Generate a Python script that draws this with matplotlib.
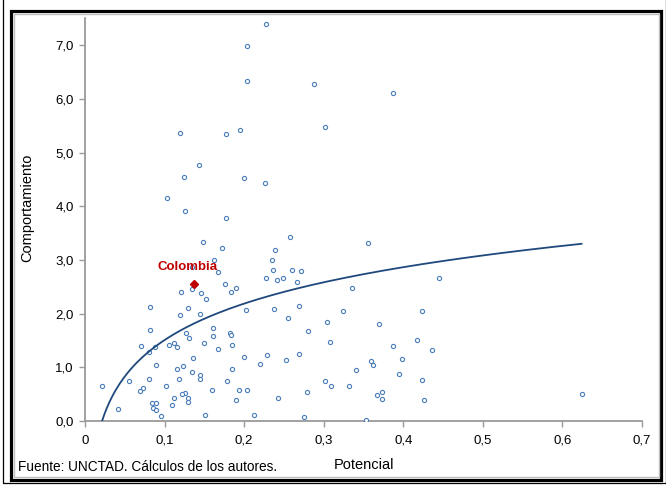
import matplotlib
matplotlib.use("Agg")
import matplotlib.pyplot as plt
import numpy as np
from matplotlib.patches import Rectangle
from matplotlib.ticker import FuncFormatter

plt.rcParams['font.family'] = ['Liberation Sans', 'DejaVu Sans']

# Potencial (x) and Comportamiento (y) for each economy
potencial = [
    0.228, 0.204, 0.204, 0.119, 0.177, 0.195, 0.143, 0.124, 0.200, 0.226, 0.103, 0.126, 0.177,
    0.288, 0.387, 0.302,
    0.148, 0.172, 0.239, 0.162, 0.235, 0.135, 0.167, 0.236, 0.227, 0.241, 0.176, 0.190, 0.134,
    0.121, 0.146, 0.183, 0.152, 0.082, 0.129, 0.202, 0.237, 0.119, 0.144, 0.082, 0.161, 0.127,
    0.161, 0.182, 0.184, 0.131, 0.071, 0.105, 0.112, 0.115, 0.088, 0.150, 0.185, 0.081, 0.167,
    0.136, 0.200, 0.229, 0.089, 0.123, 0.220, 0.115, 0.185, 0.134, 0.144, 0.144, 0.118, 0.080,
    0.178, 0.055, 0.021, 0.073, 0.069, 0.102, 0.160, 0.193, 0.204, 0.126, 0.122, 0.129, 0.112,
    0.130, 0.190, 0.084, 0.089, 0.109, 0.242, 0.041, 0.085, 0.089, 0.095, 0.151, 0.213,
    0.258, 0.260, 0.271, 0.249, 0.266, 0.356, 0.335, 0.445, 0.269, 0.255, 0.324, 0.304, 0.369,
    0.423, 0.280, 0.308, 0.387, 0.417, 0.436, 0.252, 0.269, 0.360, 0.362, 0.399, 0.341, 0.394,
    0.302, 0.309, 0.332, 0.423, 0.279, 0.367, 0.373, 0.373, 0.426, 0.275, 0.353,
    0.624,
]
comportamiento = [
    7.39, 6.99, 6.34, 5.36, 5.35, 5.42, 4.77, 4.54, 4.53, 4.43, 4.16, 3.92, 3.78,
    6.28, 6.11, 5.47,
    3.33, 3.23, 3.18, 2.99, 2.99, 2.86, 2.77, 2.81, 2.67, 2.62, 2.55, 2.48, 2.46,
    2.40, 2.38, 2.40, 2.28, 2.12, 2.10, 2.07, 2.08, 1.97, 2.00, 1.69, 1.74, 1.63,
    1.59, 1.64, 1.60, 1.54, 1.40, 1.42, 1.45, 1.37, 1.37, 1.45, 1.41, 1.28, 1.34,
    1.17, 1.20, 1.23, 1.04, 1.02, 1.06, 0.97, 0.96, 0.91, 0.86, 0.78, 0.79, 0.78,
    0.75, 0.74, 0.65, 0.62, 0.56, 0.65, 0.57, 0.57, 0.57, 0.53, 0.50, 0.43, 0.43,
    0.35, 0.39, 0.34, 0.33, 0.29, 0.42, 0.23, 0.24, 0.21, 0.09, 0.11, 0.12,
    3.43, 2.81, 2.79, 2.66, 2.59, 3.31, 2.48, 2.66, 2.15, 1.92, 2.04, 1.84, 1.81,
    2.05, 1.68, 1.48, 1.40, 1.50, 1.33, 1.14, 1.24, 1.12, 1.04, 1.16, 0.95, 0.87,
    0.75, 0.66, 0.66, 0.76, 0.54, 0.48, 0.54, 0.41, 0.39, 0.08, 0.01,
    0.50,
]

# Highlighted country
colombia_x = [0.137]
colombia_y = [2.55]

# Logarithmic trend line: y = a*ln(x) + b
trend_a = 0.979
trend_b = 3.762

x_ticks = [0, 0.1, 0.2, 0.3, 0.4, 0.5, 0.6, 0.7]
y_ticks = [0, 1, 2, 3, 4, 5, 6, 7]

W, H = 666, 492
fig = plt.figure(figsize=(W / 100, H / 100), dpi=100)


def fx(px):
    return px / W


def fy(py):
    return 1 - py / H


# Frame around the figure
fig.patches.append(Rectangle((fx(2.5), fy(483)), fx(665.5) - fx(2.5), fy(-3) - fy(483),
                             transform=fig.transFigure, fill=False, edgecolor='black', lw=0.9))
fig.patches.append(Rectangle((fx(10.8), fy(480)), fx(661) - fx(10.8), fy(10.8) - fy(480),
                             transform=fig.transFigure, fill=False, edgecolor='black', lw=2.3))
fig.patches.append(Rectangle((fx(13.5), fy(477)), fx(658.5) - fx(13.5), fy(13.5) - fy(477),
                             transform=fig.transFigure, fill=False, edgecolor='#bfbfbf', lw=1.0))

ax = fig.add_axes([fx(85), fy(421), fx(642) - fx(85), fy(18.3) - fy(421)])

ax.scatter(potencial, comportamiento, s=9, facecolors='white', edgecolors='#4a7ebb',
           linewidths=0.8, zorder=3)

xs = np.linspace(min(potencial), max(potencial), 400)
ax.plot(xs, trend_a * np.log(xs) + trend_b, color='#1f497d', lw=1.3, zorder=4)

ax.plot(colombia_x, colombia_y, marker='D', color='#c00000', markersize=4.5, ls='none', zorder=5)
ax.annotate('Colombia', (colombia_x[0], colombia_y[0]), xytext=(-5, 8),
            textcoords='offset points', ha='center', va='bottom',
            color='#c00000', fontweight='bold', fontsize=9.5, zorder=6)

ax.set_xlim(0, 0.7)
ax.set_ylim(0, 7.5)
ax.set_xticks(x_ticks)
ax.set_yticks(y_ticks)
ax.xaxis.set_major_formatter(FuncFormatter(lambda v, p: '0' if v == 0 else f'{v:.1f}'.replace('.', ',')))
ax.yaxis.set_major_formatter(FuncFormatter(lambda v, p: f'{v:.1f}'.replace('.', ',')))

for side in ('top', 'right'):
    ax.spines[side].set_visible(False)
for side in ('left', 'bottom'):
    ax.spines[side].set_color('#9a9a9a')
    ax.spines[side].set_linewidth(1.3)
ax.tick_params(axis='both', direction='out', length=4, width=1, color='#9a9a9a',
               labelsize=9.5, labelcolor='black')
ax.tick_params(axis='x', pad=6)
ax.tick_params(axis='y', pad=4)

fig.text(fx(364), fy(465), 'Potencial', ha='center', va='center', fontsize=10.5)
fig.text(fx(27), fy(208), 'Comportamiento', ha='center', va='center', rotation=90, fontsize=10.5)
fig.text(fx(18), fy(467), 'Fuente: UNCTAD. Cálculos de los autores.', ha='left', va='center',
         fontsize=9.8)

fig.savefig('out.png', dpi=100)
